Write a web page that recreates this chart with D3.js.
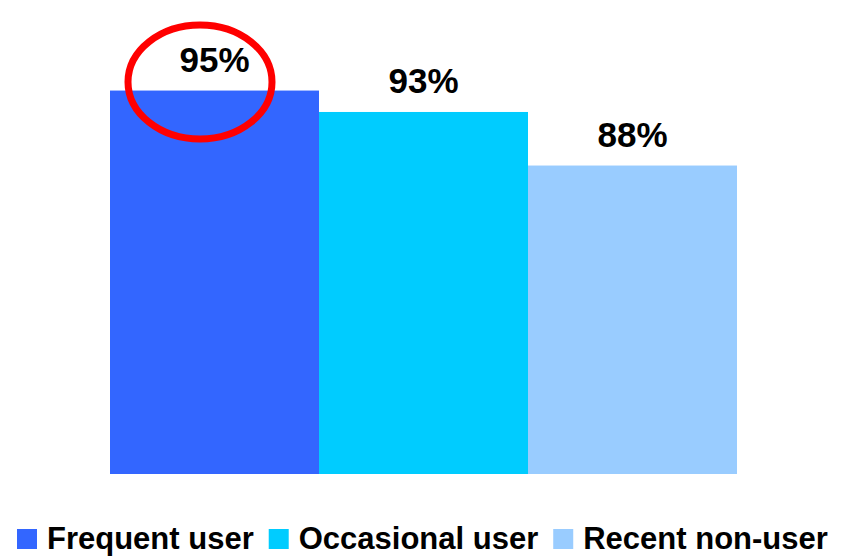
<!DOCTYPE html>
<html>
<head>
<meta charset="utf-8">
<script src="https://cdn.jsdelivr.net/npm/d3@7"></script>
<style>
  html, body { margin: 0; padding: 0; background: #fff; }
  svg { display: block; font-family: "Liberation Sans", Arial, sans-serif; }
</style>
</head>
<body>
<svg id="chart" width="849" height="556"></svg>
<script>
const categories = ["Frequent user", "Occasional user", "Recent non-user"];
const values = [95, 93, 88];
const labels = ["95%", "93%", "88%"];
const colors = ["#3366ff", "#00ccff", "#99ccff"];

const svg = d3.select("#chart");

const x = d3.scaleBand().domain(categories).range([110, 737]).padding(0);
const y = d3.scaleLinear().domain([59.2, 100]).range([474, 37]);

svg.selectAll("rect.bar")
  .data(categories)
  .join("rect")
  .attr("class", "bar")
  .attr("x", d => x(d))
  .attr("width", x.bandwidth())
  .attr("y", (d, i) => y(values[i]))
  .attr("height", (d, i) => y.range()[0] - y(values[i]))
  .attr("fill", (d, i) => colors[i]);

svg.selectAll("text.val")
  .data(categories)
  .join("text")
  .attr("class", "val")
  .attr("x", d => x(d) + x.bandwidth() / 2)
  .attr("y", (d, i) => y(values[i]) - 19)
  .attr("text-anchor", "middle")
  .attr("font-size", 35)
  .attr("font-weight", "bold")
  .attr("fill", "#000")
  .text((d, i) => labels[i]);

// highlight circle around first value
svg.append("ellipse")
  .attr("cx", x(categories[0]) + 90)
  .attr("cy", y(values[0]) - 8.5)
  .attr("rx", 72)
  .attr("ry", 57)
  .attr("fill", "none")
  .attr("stroke", "#ff0000")
  .attr("stroke-width", 7);

// legend
const legend = svg.append("g");
let lx = 17;
categories.forEach((c, i) => {
  legend.append("rect")
    .attr("x", lx).attr("y", 529)
    .attr("width", 20).attr("height", 20)
    .attr("fill", colors[i]);
  const t = legend.append("text")
    .attr("x", lx + 30).attr("y", 549)
    .attr("font-size", 31)
    .attr("font-weight", "bold")
    .attr("fill", "#000")
    .text(c);
  const w = t.node().getComputedTextLength();
  lx = lx + 30 + w + 15;
});
</script>
</body>
</html>
